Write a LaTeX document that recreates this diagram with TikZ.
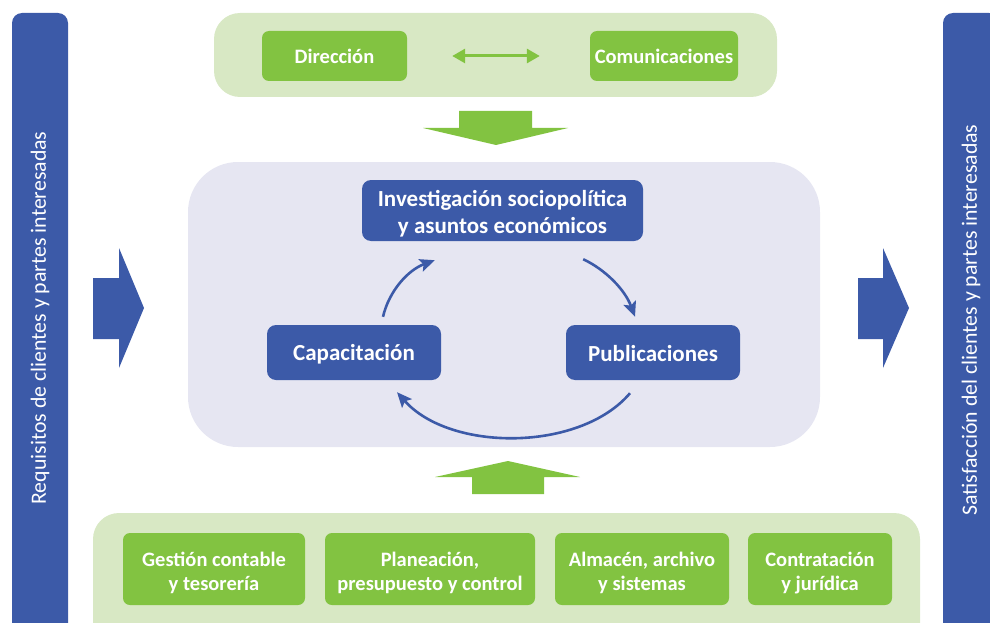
\documentclass[tikz,border=0pt]{standalone}
\usepackage{fontspec}
\setmainfont{Carlito}
\usetikzlibrary{arrows.meta,calc}
\definecolor{cblue}{RGB}{60,90,168}
\definecolor{cgreen}{RGB}{130,195,65}
\definecolor{clgreen}{RGB}{216,232,196}
\definecolor{clav}{RGB}{230,230,242}
\begin{document}
\begin{tikzpicture}[x=1pt,y=-1pt,
  bar/.style={fill=cblue, rounded corners=10pt, inner sep=0pt, minimum width=56pt, minimum height=646pt},
  bartext/.style={rotate=90, text=white, font=\fontsize{21.8}{25}\selectfont, inner sep=0pt},
  cont/.style={fill=clgreen, rounded corners=26pt, inner sep=0pt},
  gbox/.style={fill=cgreen, rounded corners=7pt, inner sep=0pt},
  gtop/.style={gbox, text=white, font=\bfseries\fontsize{20.5}{24}\selectfont, minimum height=50pt},
  gbot/.style={gbox, minimum height=72pt},
  gbottext/.style={text=white, align=center, inner sep=0pt, font=\bfseries\fontsize{20.5}{23.5}\selectfont},
  bbox/.style={fill=cblue, rounded corners=9pt, inner sep=0pt},
  btext/.style={text=white, align=center, inner sep=0pt, font=\bfseries\fontsize{23}{27}\selectfont},
  cyc/.style={draw=cblue, line width=2.6pt, -{Stealth[length=15pt,width=13pt,inset=3pt]}},
  blockb/.style={fill=cblue},
  blockg/.style={fill=cgreen}]
\useasboundingbox (0,0) rectangle (990,623);
\clip (0,0) rectangle (990,623);
% side bars
\node[bar] (lbar) at (40,336) {};
\node[bartext] (ltext) at (40,318) {Requisitos de clientes y partes interesadas};
\node[bar] (rbar) at (971,336) {};
\node[bartext] (rtext) at (971,320) {Satisfacción del clientes y partes interesadas};
% side block arrows
\fill[blockb] (93,278) -- (119,278) -- (119,248) -- (144,308) -- (119,368) -- (119,339) -- (93,339) -- cycle;
\fill[blockb] (858,278) -- (883,278) -- (883,248) -- (909,308) -- (883,368) -- (883,339) -- (858,339) -- cycle;
% top container
\node[cont, minimum width=563pt, minimum height=84pt] (top) at (495.5,55) {};
\node[gtop, minimum width=145pt] (dir) at (334.5,56) {Dirección};
\node[gtop, minimum width=148pt] (com) at (664,56) {Comunicaciones};
\draw[cgreen, line width=3pt, {Triangle[length=13pt,width=14pt]}-{Triangle[length=13pt,width=14pt]}, shorten <=45pt, shorten >=50pt] (dir) -- (com);
% down arrow
\fill[blockg] (459,111) -- (532,111) -- (532,128) -- (568,128) -- (496,145) -- (423,128) -- (459,128) -- cycle;
% central container
\node[fill=clav, rounded corners=50pt, inner sep=0pt, minimum width=632pt, minimum height=285pt] (mid) at (504,304.5) {};
\node[bbox, minimum width=281pt, minimum height=61pt] (inv) at (502.5,210.5) {};
\node[btext] (invt) at ([yshift=-3pt]inv.center) {Investigación sociopolítica\\y asuntos económicos};
\node[bbox, minimum width=174pt, minimum height=55pt] (cap) at (354,352.5) {};
\node[btext] (capt) at ([yshift=-2pt]cap.center) {Capacitación};
\node[bbox, minimum width=174pt, minimum height=55pt] (pub) at (653,352.5) {};
\node[btext] (pubt) at ([yshift=-1pt]pub.center) {Publicaciones};
\draw[cyc] ($(cap.north)+(29,-8)$) .. controls (389,291) and (408,270) .. ($(inv.south west)+(73,19)$);
\draw[cyc] ($(inv.south east)+(-60,18)$) .. controls (606,270) and (625,290) .. ($(pub.north)+(-18,-8)$);
\draw[cyc] ($(pub.south)+(-23,13)$) .. controls (580,452) and (450,452) .. ($(cap.south)+(43,12)$);
% up arrow
\fill[blockg] (472,494) -- (544,494) -- (544,477) -- (580,477) -- (508,461) -- (435,477) -- (472,477) -- cycle;
% bottom container
\node[cont, minimum width=827pt, minimum height=140pt] (bot) at (506.5,583) {};
\node[gbot, minimum width=182pt] (ges) at (214,569) {};
\node[gbottext] (gest) at ([yshift=-4pt]ges.center) {Gestión contable\\y tesorería};
\node[gbot, minimum width=210pt] (pla) at (430,569) {};
\node[gbottext] (plat) at ([yshift=-4pt]pla.center) {Planeación,\\presupuesto y control};
\node[gbot, minimum width=174pt] (alm) at (642,569) {};
\node[gbottext] (almt) at ([yshift=-4pt]alm.center) {Almacén, archivo\\y sistemas};
\node[gbot, minimum width=144pt] (con) at (820,569) {};
\node[gbottext] (cont) at ([yshift=-4pt]con.center) {Contratación\\y jurídica};
\end{tikzpicture}
\end{document}
